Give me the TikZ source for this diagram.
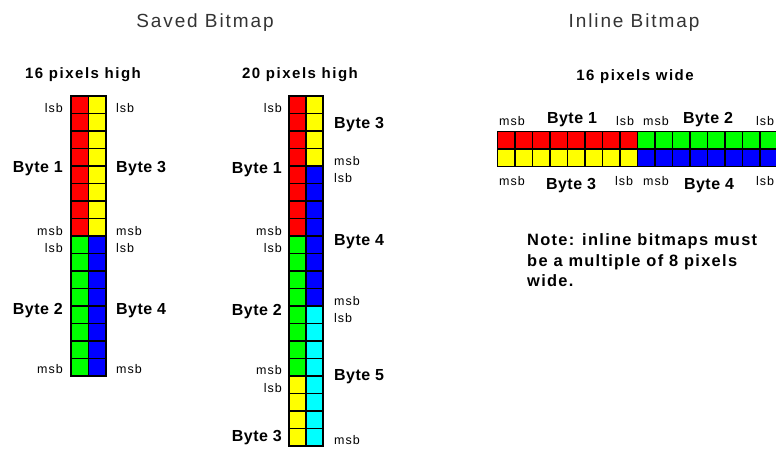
\documentclass[tikz,border=0pt]{standalone}
\usepackage{fontspec}
\setmainfont{Liberation Sans}
\newfontfamily\titlefont[LetterSpace=10]{Liberation Sans}
\newfontfamily\headfont[LetterSpace=10]{Liberation Sans}
\newfontfamily\smallfont[LetterSpace=8]{Liberation Sans}
\newfontfamily\bytefont[LetterSpace=3]{Liberation Sans}
\newfontfamily\notefont[LetterSpace=8]{Liberation Sans}
\definecolor{pxred}{RGB}{255,0,0}
\definecolor{pxyellow}{RGB}{255,255,0}
\definecolor{pxgreen}{RGB}{0,255,0}
\definecolor{pxblue}{RGB}{0,0,255}
\definecolor{pxcyan}{RGB}{0,255,255}
\begin{document}
\begin{tikzpicture}[x=1pt,y=-1pt,
  titletext/.style={font=\titlefont\fontsize{19}{22}\selectfont, text=black!80, inner sep=0},
  headtext/.style={font=\headfont\bfseries\fontsize{15}{18}\selectfont, inner sep=0},
  bytetext/.style={font=\bytefont\bfseries\fontsize{16}{19}\selectfont, inner sep=0},
  bittext/.style={font=\smallfont\fontsize{12.5}{14}\selectfont, inner sep=0},
  notetext/.style={font=\notefont\bfseries\fontsize{16.4}{20.7}\selectfont, inner sep=0, align=left},
  cell/.style={draw=black, line width=1.3pt}]
\useasboundingbox (0,0) rectangle (776,450);
\clip (0,0) rectangle (776,450);

% ---------- titles ----------
\node[titletext] (saved) at (205,23) {Saved Bitmap};
\node[titletext] (inline) at (634,23) {Inline Bitmap};
\node[headtext] (h16) at (83,75) {16 pixels high};
\node[headtext] (h20) at (300,75) {20 pixels high};
\node[headtext] (w16) at (635,77) {16 pixels wide};

% ---------- 16 pixels high grid ----------
\foreach \r in {0,...,7}{
  \draw[cell,fill=pxred]    (71,{96+\r*17.5}) rectangle ++(17.5,17.5);
  \draw[cell,fill=pxyellow] (88.5,{96+\r*17.5}) rectangle ++(17.5,17.5);
  \draw[cell,fill=pxgreen]  (71,{236+\r*17.5}) rectangle ++(17.5,17.5);
  \draw[cell,fill=pxblue]   (88.5,{236+\r*17.5}) rectangle ++(17.5,17.5);
}
\node[bittext,anchor=east]  (a1) at (63,108) {lsb};
\node[bytetext,anchor=east] (a2) at (63,169) {Byte 1};
\node[bittext,anchor=east]  (a3) at (63,231) {msb};
\node[bittext,anchor=east]  (a4) at (63,248) {lsb};
\node[bytetext,anchor=east] (a5) at (63,311) {Byte 2};
\node[bittext,anchor=east]  (a6) at (63,369) {msb};
\node[bittext,anchor=west]  (b1) at (116,108) {lsb};
\node[bytetext,anchor=west] (b2) at (116,169) {Byte 3};
\node[bittext,anchor=west]  (b3) at (116,231) {msb};
\node[bittext,anchor=west]  (b4) at (116,248) {lsb};
\node[bytetext,anchor=west] (b5) at (116,311) {Byte 4};
\node[bittext,anchor=west]  (b6) at (116,369) {msb};

% ---------- 20 pixels high grid ----------
\foreach \r in {0,...,7}{
  \draw[cell,fill=pxred]   (289,{96+\r*17.5}) rectangle ++(17,17.5);
  \draw[cell,fill=pxgreen] (289,{236+\r*17.5}) rectangle ++(17,17.5);
  \draw[cell,fill=pxblue]  (306,{166+\r*17.5}) rectangle ++(17,17.5);
  \draw[cell,fill=pxcyan]  (306,{306+\r*17.5}) rectangle ++(17,17.5);
}
\foreach \r in {0,...,3}{
  \draw[cell,fill=pxyellow] (306,{96+\r*17.5}) rectangle ++(17,17.5);
  \draw[cell,fill=pxyellow] (289,{376+\r*17.5}) rectangle ++(17,17.5);
}
\node[bittext,anchor=east]  (c1) at (282,108) {lsb};
\node[bytetext,anchor=east] (c2) at (282,170) {Byte 1};
\node[bittext,anchor=east]  (c3) at (282,231) {msb};
\node[bittext,anchor=east]  (c4) at (282,248) {lsb};
\node[bytetext,anchor=east] (c5) at (282,312) {Byte 2};
\node[bittext,anchor=east]  (c6) at (282,370) {msb};
\node[bittext,anchor=east]  (c7) at (282,388) {lsb};
\node[bytetext,anchor=east] (c8) at (282,438) {Byte 3};
\node[bytetext,anchor=west] (d1) at (334,125) {Byte 3};
\node[bittext,anchor=west]  (d2) at (334,161) {msb};
\node[bittext,anchor=west]  (d3) at (334,178) {lsb};
\node[bytetext,anchor=west] (d4) at (334,242) {Byte 4};
\node[bittext,anchor=west]  (d5) at (334,301) {msb};
\node[bittext,anchor=west]  (d6) at (334,318) {lsb};
\node[bytetext,anchor=west] (d7) at (334,377) {Byte 5};
\node[bittext,anchor=west]  (d8) at (334,440) {msb};

% ---------- inline bitmap strip ----------
\foreach \c in {0,...,7}{
  \draw[cell,fill=pxred]    ({497.5+\c*17.5},131.5) rectangle ++(17.5,17.5);
  \draw[cell,fill=pxyellow] ({497.5+\c*17.5},149) rectangle ++(17.5,17.5);
  \draw[cell,fill=pxgreen]  ({637.5+\c*17.5},131.5) rectangle ++(17.5,17.5);
  \draw[cell,fill=pxblue]   ({637.5+\c*17.5},149) rectangle ++(17.5,17.5);
}
\node[bittext]  (e1) at (512,121) {msb};
\node[bytetext] (e2) at (572,120) {Byte 1};
\node[bittext]  (e3) at (625,121) {lsb};
\node[bittext]  (e4) at (656,121) {msb};
\node[bytetext] (e5) at (708,120) {Byte 2};
\node[bittext]  (e6) at (765,121) {lsb};
\node[bittext]  (f1) at (512,181) {msb};
\node[bytetext] (f2) at (571,186) {Byte 3};
\node[bittext]  (f3) at (624,181) {lsb};
\node[bittext]  (f4) at (656,181) {msb};
\node[bytetext] (f5) at (709,186) {Byte 4};
\node[bittext]  (f6) at (765,181) {lsb};

% ---------- note ----------
\node[notetext,anchor=north west] (note) at (527,233.5)
  {Note: inline bitmaps must\\be a multiple of 8 pixels\\wide.};
\end{tikzpicture}
\end{document}
